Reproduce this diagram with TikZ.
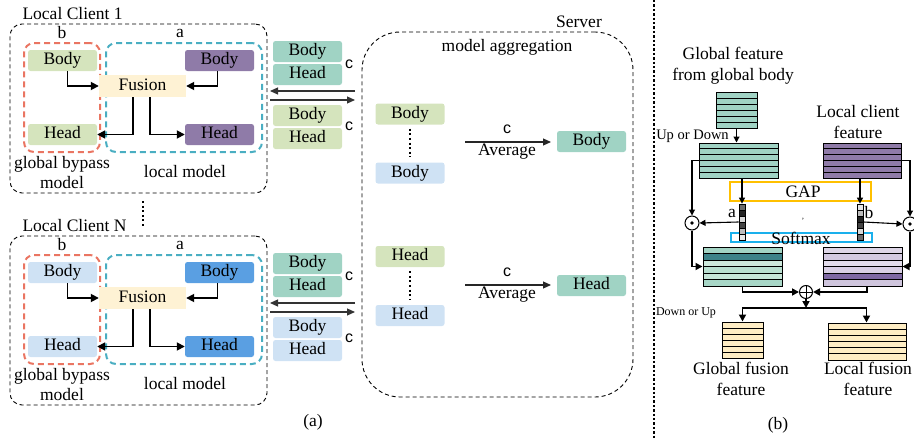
\documentclass[tikz,border=0pt]{standalone}
\usepackage{fontspec}
\setmainfont{Liberation Serif}
\newfontfamily\sansc{Liberation Sans}
\usetikzlibrary{arrows.meta,fit}
\definecolor{cgreen}{HTML}{D5E4BD}
\definecolor{cpurple}{HTML}{8F7BA8}
\definecolor{cteal}{HTML}{A0D3C4}
\definecolor{clblue}{HTML}{CFE2F4}
\definecolor{cblue}{HTML}{5A9FE2}
\definecolor{cfusion}{HTML}{FEF2D4}
\definecolor{cred}{HTML}{EA7562}
\definecolor{ctealline}{HTML}{4AAEC2}
\definecolor{corange}{HTML}{FFC000}
\definecolor{csky}{HTML}{1AB0EC}
\definecolor{ccream}{HTML}{FEEDC4}
\definecolor{gA}{HTML}{A3D4C4}
\definecolor{gB}{HTML}{3E8389}
\definecolor{gC}{HTML}{CDE8DC}
\definecolor{gD}{HTML}{B9DFD0}
\definecolor{gE}{HTML}{C6E5D8}
\definecolor{gF}{HTML}{A8D7C7}
\definecolor{pA}{HTML}{DDD5E6}
\definecolor{pB}{HTML}{D3C9E0}
\definecolor{pC}{HTML}{E2DCEB}
\definecolor{pD}{HTML}{D8CFE4}
\definecolor{pE}{HTML}{7E68A3}
\definecolor{pF}{HTML}{CFC5DD}
\definecolor{k1}{HTML}{222222}
\definecolor{k2}{HTML}{444444}
\definecolor{k3}{HTML}{6B6B6B}
\definecolor{k4}{HTML}{BDBDBD}
\definecolor{k5}{HTML}{D8D8D8}
\definecolor{k6}{HTML}{E6E6E6}
\tikzset{
  mbox/.style={rounded corners=2.5pt, inner sep=0pt, minimum width=69pt, minimum height=21pt, text height=11.5pt, text depth=3.5pt},
  outerbox/.style={draw, line width=0.9pt, dash pattern=on 4pt off 3pt, rounded corners=12pt, inner sep=0pt},
  redbox/.style={draw=cred, line width=2pt, dash pattern=on 6pt off 4pt, rounded corners=10pt, inner sep=0pt},
  tealbox/.style={draw=ctealline, line width=2pt, dash pattern=on 6pt off 4pt, rounded corners=10pt, inner sep=0pt},
  carr/.style={line width=1.7pt, -{Triangle[length=8pt,width=8pt]}},
  tarr/.style={line width=1.2pt, draw=black!80, -{Triangle[length=8pt,width=7pt]}},
  rarr/.style={line width=1.1pt, -{Triangle[length=6pt,width=6pt]}},
  rarrb/.style={line width=1.7pt, -{Triangle[length=7pt,width=7pt]}},
  clab/.style={font=\sansc\fontsize{16}{18}\selectfont},
  dotsv/.style={line width=2.2pt, dash pattern=on 2pt off 2.6pt},
}
\newcommand\fmap[7]{%
  \foreach \cc [count=\i] in {#6}{%
    \filldraw[fill=\cc, draw=black, line width=#7] (#2,{#3+(\i-1)*(#5-#3)/6}) rectangle (#4,{#3+\i*(#5-#3)/6});}%
  \node[fit={(#2,#3) (#4,#5)}, inner sep=0pt, draw, line width=#7] (#1) {};}
\newcommand\clientblk[5]{%
\begin{scope}[yshift=#2]
  \node[anchor=west] (#1title) at (19,14) {#3};
  \node[outerbox, minimum width=257pt, minimum height=169pt] (#1out) at (138.5,108.5) {};
  \node[redbox, minimum width=76pt, minimum height=109pt] (#1rb) at (62,97.5) {};
  \node[tealbox, minimum width=156pt, minimum height=109pt] (#1tb) at (184,97.5) {};
  \node (#1b) at (62,33) {b};
  \node (#1a) at (180,33) {a};
  \node[mbox, fill=#4] (#1gb) at (62.5,60.5) {Body};
  \node[mbox, fill=#4] (#1gh) at (62.5,134.5) {Head};
  \node[mbox, fill=#5] (#1lb) at (219.5,60.5) {Body};
  \node[mbox, fill=#5] (#1lh) at (219.5,134.5) {Head};
  \node[mbox, fill=cfusion, minimum width=87pt, minimum height=22pt, rounded corners=0pt] (#1fu) at (142.5,86) {Fusion};
  \node[align=center, font=\fontsize{17.5}{20}\selectfont] (#1gbm) at (62,173) {global bypass\\model};
  \node (#1lm) at (185,172) {local model};
  \draw[carr] ([xshift=5pt]#1gb.south) |- (#1fu.west);
  \draw[carr] ([xshift=-2pt]#1lb.south) |- (#1fu.east);
  \draw[carr] ([xshift=-9.5pt]#1fu.south) |- (#1gh.east);
  \draw[carr] ([xshift=7.5pt]#1fu.south) |- (#1lh.west);
  \node[mbox, fill=cteal] (#1sb) at (307.5,51.5) {Body};
  \node[mbox, fill=cteal] (#1sh) at (307.5,74.5) {Head};
  \node[clab] (#1c1) at (349,64) {c};
  \coordinate (#1pa) at (355,91);
  \coordinate (#1pb) at (270,91);
  \draw[tarr] (#1pa) -- (#1pb);
  \coordinate (#1qa) at (270,100);
  \coordinate (#1qb) at (355,100);
  \draw[tarr] (#1qa) -- (#1qb);
  \node[mbox, fill=#4] (#1ub) at (307.5,115.5) {Body};
  \node[mbox, fill=#4] (#1uh) at (307.5,138.5) {Head};
  \node[clab] (#1c2) at (349,126) {c};
\end{scope}}
\begin{document}
\begin{tikzpicture}[x=1pt, y=-1pt, font=\fontsize{17.5}{21}\selectfont]
\useasboundingbox (0,0) rectangle (914,439);
% ---------- panel (a) ----------
\clientblk{k}{0pt}{Local Client 1}{cgreen}{cpurple}
\clientblk{n}{-212pt}{Local Client N}{clblue}{cblue}
\coordinate (dA) at (143,201);
\coordinate (dB) at (143,227);
\draw[dotsv] (dA) -- (dB);
% server
\node[draw, line width=0.9pt, dash pattern=on 4pt off 3pt, rounded corners=38pt, minimum width=271pt, minimum height=365pt, inner sep=0pt] (srv) at (497.5,214.5) {};
\node (srvl) at (579,22) {Server};
\node (agg) at (507,47) {model aggregation};
\node[mbox, fill=cgreen] (s1) at (410,114) {Body};
\node[mbox, fill=clblue] (s2) at (410,173) {Body};
\draw[dotsv] ([yshift=-4pt]s1.south) -- ([yshift=5pt]s2.north);
\coordinate (av1a) at (465,142);
\coordinate (av1b) at (551,142);
\draw[tarr, draw=black!85] (av1a) -- (av1b);
\node[clab] (avc1) at (507,129) {c};
\node (avt1) at (507,152) {Average};
\node[mbox, fill=cteal] (r1) at (591.5,141.5) {Body};
\node[mbox, fill=cgreen] (s3) at (410,256.5) {Head};
\node[mbox, fill=clblue] (s4) at (410,315.5) {Head};
\draw[dotsv] ([yshift=-4pt]s3.south) -- ([yshift=5pt]s4.north);
\coordinate (av2a) at (465,285);
\coordinate (av2b) at (551,285);
\draw[tarr, draw=black!85] (av2a) -- (av2b);
\node[clab] (avc2) at (507,272) {c};
\node (avt2) at (507,295) {Average};
\node[mbox, fill=cteal] (r2) at (591.5,285.5) {Head};
\node (capa) at (313,422) {(a)};
% separator
\coordinate (sepA) at (654,0);
\coordinate (sepB) at (654,439);
\draw[line width=2.4pt, dash pattern=on 2.4pt off 2pt] (sepA) -- (sepB);
% ---------- panel (b) ----------
\node[align=center] (gft) at (733,66) {Global feature\\from global body};
\node[align=center] (lct) at (858,122.5) {Local client\\feature};
\fmap{gsmall}{716}{92}{757}{128}{cteal,cteal,cteal,cteal,cteal,cteal}{1pt}
\fmap{gbig}{699}{143}{778}{178}{cteal,cteal,cteal,cteal,cteal,cteal}{1pt}
\fmap{pbig}{823}{143}{901}{178}{cpurple,cpurple,cpurple,cpurple,cpurple,cpurple}{1pt}
\draw[rarr] (gsmall.south) -- (gsmall.south |- gbig.north);
\node[font=\fontsize{14.5}{16}\selectfont] (upd) at (692.5,136) {Up or Down};
\node[draw=corange, line width=1.6pt, minimum width=141pt, minimum height=19pt, inner sep=0pt] (gap) at (800.5,191.5) {};
\node (gapt) at (803,191.5) {GAP};
\node[draw=csky, line width=1.5pt, minimum width=141pt, minimum height=9pt, inner sep=0pt] (smx) at (801.5,237.5) {};
\node (smt) at (801,238) {Softmax};
\fmap{veca}{739}{204}{745}{240}{k3,k1,k5,k2,k4,k6}{0.8pt}
\fmap{vecb}{857}{204}{863}{240}{k6,k4,k1,k2,k5,k3}{0.8pt}
\node[font=\fontsize{8}{8}\selectfont] (tick) at (803,221) {'};
\node (la) at (732,213) {a};
\node (lb) at (869,213) {b};
\draw[rarr] (veca.north |- gbig.south) -- (veca.north);
\draw[rarr] (vecb.north |- pbig.south) -- (vecb.north);
\node[circle, draw, line width=1pt, minimum size=14pt, inner sep=0pt] (od1) at (692,223) {};
\fill (od1.center) circle (1.9pt);
\node[circle, draw, line width=1pt, minimum size=14pt, inner sep=0pt] (od2) at (910,224) {};
\fill (od2.center) circle (1.9pt);
\draw[rarr] (gbig.west) -| (od1.north);
\draw[rarr] (pbig.east) -| (od2.north);
\draw[rarr] (veca.west) -- (od1.east);
\draw[rarr] (vecb.east) -- (od2.west);
\fmap{gfus}{703}{247}{782}{286}{gA,gB,gC,gD,gE,gF}{1pt}
\fmap{pfus}{823}{247}{902}{286}{pA,pB,pC,pD,pE,pF}{1pt}
\draw[rarrb] (od1.south) |- (gfus.west);
\draw[rarrb] (od2.south) |- (pfus.east);
\node[circle, draw, line width=1pt, minimum size=13pt, inner sep=0pt] (op) at (806,292) {};
\draw[line width=1pt] (op.north) -- (op.south) (op.west) -- (op.east);
\draw[rarrb] (gfus.south) |- (op.west);
\draw[rarrb] ([xshift=4.5pt]pfus.south) |- (op.east);
\coordinate (split) at (806,308);
\draw[rarrb] (op.south) -- (split);
\fmap{gout}{722}{322}{763}{358}{ccream,ccream,ccream,ccream,ccream,ccream}{1pt}
\fmap{lout}{828}{323}{906}{360}{ccream,ccream,ccream,ccream,ccream,ccream}{1pt}
\draw[rarrb] (split) -| (gout.north);
\draw[rarrb] (split) -| ([xshift=-0.5pt]lout.north);
\node[font=\fontsize{12}{14}\selectfont] (dou) at (686,313) {Down or Up};
\node[align=center] (gfo) at (741,379) {Global fusion\\feature};
\node[align=center] (lfo) at (868,379) {Local fusion\\feature};
\node (capb) at (778,425) {(b)};
\end{tikzpicture}
\end{document}
